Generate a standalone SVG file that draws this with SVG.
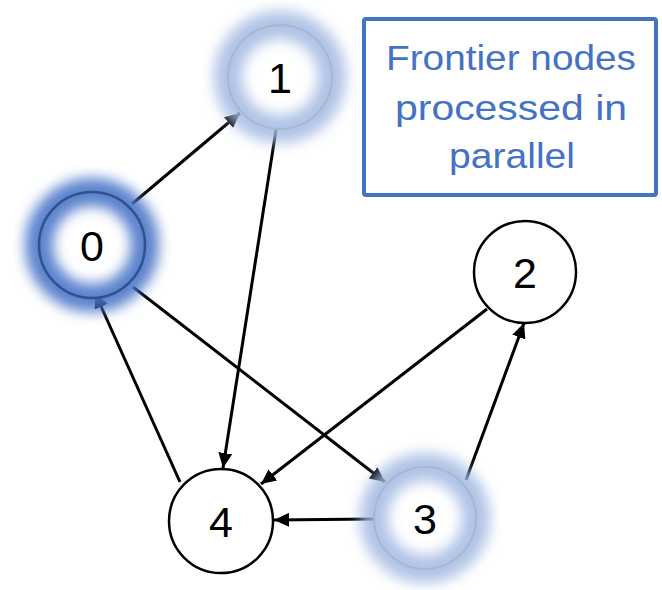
<svg xmlns="http://www.w3.org/2000/svg" width="662" height="590" viewBox="0 0 662 590">
  <style>
    .edge { fill: none; stroke: #000; stroke-width: 3; marker-end: url(#arrow); }
    .disk { fill: #fff; }
    .plain { fill: #fff; stroke: #000; stroke-width: 2.5; }
    .label { font-family: "Liberation Sans", Arial, sans-serif; font-size: 43px; fill: #000; text-anchor: middle; }
    .soft-glow { fill: none; stroke: #A3B9E2; stroke-width: 28; opacity: 0.85; filter: url(#blur); }
    .strong-glow { fill: none; stroke: #4A75C8; stroke-width: 28; opacity: 0.9; filter: url(#blur); }
    .soft-ring { fill: none; stroke: #A9B6CF; stroke-width: 2; }
    .strong-ring { fill: none; stroke: #2F528F; stroke-width: 2.5; }
    .note { font-family: "Liberation Sans", Arial, sans-serif; font-size: 35px; fill: #4472C4; text-anchor: middle; }
  </style>
  <defs>
    <marker id="arrow" markerUnits="userSpaceOnUse" markerWidth="16" markerHeight="14" refX="15" refY="7" orient="auto">
      <path d="M0,0 L15,7 L0,14 Z" fill="#000"/>
    </marker>
    <filter id="blur" x="-50%" y="-50%" width="200%" height="200%">
      <feGaussianBlur stdDeviation="6.5"/>
    </filter>
  </defs>

  <rect width="662" height="590" fill="#fff"/>

  <!-- directed edges -->
  <g id="connectors">
    <path class="edge" d="M132,204 L240,113"/>
    <path class="edge" d="M276,130 L223,468"/>
    <path class="edge" d="M133,287 L385,482"/>
    <path class="edge" d="M487,309 L261,484"/>
    <path class="edge" d="M466,480 L524,323"/>
    <path class="edge" d="M374,519 L274,520"/>
    <path class="edge" d="M180,482 L95,293"/>
  </g>

  <!-- node 0: current frontier, strong highlight -->
  <g id="node-0">
    <circle class="disk" cx="92" cy="245" r="53"/>
    <circle class="strong-glow" cx="92" cy="245" r="53"/>
    <circle class="strong-ring" cx="92" cy="245" r="53"/>
    <text class="label" x="92" y="261">0</text>
  </g>

  <!-- node 1: frontier, soft highlight -->
  <g id="node-1">
    <circle class="disk" cx="280" cy="77" r="52"/>
    <circle class="soft-glow" cx="280" cy="77" r="52"/>
    <circle class="soft-ring" cx="280" cy="77" r="52"/>
    <text class="label" x="280" y="93">1</text>
  </g>

  <g id="node-2">
    <circle class="plain" cx="525" cy="272" r="51"/>
    <text class="label" x="525" y="288">2</text>
  </g>

  <!-- node 3: frontier, soft highlight -->
  <g id="node-3">
    <circle class="disk" cx="425" cy="518" r="51"/>
    <circle class="soft-glow" cx="425" cy="518" r="51"/>
    <circle class="soft-ring" cx="425" cy="518" r="51"/>
    <text class="label" x="425" y="534">3</text>
  </g>

  <g id="node-4">
    <circle class="plain" cx="221" cy="521" r="52"/>
    <text class="label" x="221" y="537">4</text>
  </g>

  <!-- caption box -->
  <g id="caption">
    <rect x="364" y="19" width="292" height="176" fill="#fff" stroke="#4472C4" stroke-width="4" rx="2"/>
    <text class="note" x="511" y="70" textLength="250" lengthAdjust="spacingAndGlyphs">Frontier nodes</text>
    <text class="note" x="511" y="120" textLength="232" lengthAdjust="spacingAndGlyphs">processed in</text>
    <text class="note" x="512" y="168" textLength="126" lengthAdjust="spacingAndGlyphs">parallel</text>
  </g>
</svg>
